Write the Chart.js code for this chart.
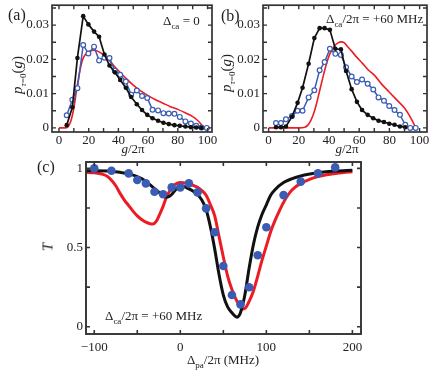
<!DOCTYPE html>
<html>
<head>
<meta charset="utf-8">
<script src="https://cdn.jsdelivr.net/npm/chart.js@4"></script>
<style>
  body { margin: 0; background: #fff; }
  #wrap { position: relative; width: 436px; height: 375px; font-family: 'Liberation Serif', 'Times New Roman', serif; color: #222; }
  canvas { position: absolute; left: 0; top: 0; }
  .t { position: absolute; white-space: nowrap; font-size: 13px; line-height: 13px; }
  .lab { font-size: 16px; line-height: 16px; }
  .rot { transform: translate(-50%, -50%) rotate(-90deg); }
  .s { font-size: 9px; position: relative; top: 4px; }
  i { font-style: italic; }
</style>
</head>
<body>
<div id="wrap">
  <canvas id="panelA" width="436" height="375"></canvas>
  <canvas id="panelB" width="436" height="375"></canvas>
  <canvas id="panelC" width="436" height="375"></canvas>

  <div class="t lab" style="left:8px;top:7px">(a)</div>
  <div class="t lab" style="left:221px;top:8px">(b)</div>
  <div class="t lab" style="left:37px;top:159px">(c)</div>

  <div class="t" style="left:163px;top:14px">&Delta;<span class="s">ca</span> = 0</div>
  <div class="t" style="left:326px;top:12px">&Delta;<span class="s">ca</span>/2&pi; = +60 MHz</div>
  <div class="t" style="left:105px;top:309px">&Delta;<span class="s">ca</span>/2&pi; = +60 MHz</div>

  <div class="t" style="left:133px;top:142px;transform:translateX(-50%)"><i>g</i>/2&pi;</div>
  <div class="t" style="left:347px;top:142px;transform:translateX(-50%)"><i>g</i>/2&pi;</div>
  <div class="t" style="left:223px;top:353px;transform:translateX(-50%)">&Delta;<span class="s">pa</span>/2&pi; (MHz)</div>

  <div class="t rot" style="left:18px;top:75px;font-size:15px"><i>p</i><span class="s"><i>&tau;</i>=0</span>(<i>g</i>)</div>
  <div class="t rot" style="left:227px;top:73px;font-size:15px"><i>p</i><span class="s"><i>&tau;</i>=0</span>(<i>g</i>)</div>
  <div class="t rot" style="left:48px;top:247px;font-size:15px"><i>T</i></div>
</div>
<script>
// panel (a): Delta_ca = 0
var gA = [5.2, 9, 12.4, 16.3, 19.8, 23.6, 27, 30.6, 34, 37.6, 41.2, 45, 48.6, 52.4, 55.9, 59.4, 63, 66.7, 70.3, 73.9, 77.7, 81.3, 85.1, 88.8, 92.4, 95.9, 99.5];
var pA_black = [0.0008, 0.006, 0.0204, 0.0326, 0.0302, 0.0281, 0.0266, 0.0214, 0.0182, 0.0162, 0.0140, 0.0117, 0.0090, 0.0069, 0.0052, 0.0038, 0.0028, 0.0021, 0.0015, 0.0011, 0.0008, 0.0006, 0.0004, 0.0002, 0.0001, 0.0];
var pA_blue = [0.0037, 0.0082, 0.0116, 0.0242, 0.0217, 0.0237, 0.0197, 0.0205, 0.0204, 0.0167, 0.0155, 0.0135, 0.0097, 0.0109, 0.0093, 0.0087, 0.0053, 0.0051, 0.0043, 0.0042, 0.0041, 0.0032, 0.0019, 0.0013, 0.0006, 0.0001, 0.0];
var gA_red = [0, 4, 6, 8, 10, 12, 14, 16, 18, 20, 23, 26, 30, 34, 38, 42, 46, 50, 55, 60, 65, 70, 75, 80, 85, 90, 93, 95, 97, 98];
var pA_red = [0, 0, 0.0003, 0.002, 0.0058, 0.0115, 0.0165, 0.0200, 0.0215, 0.0222, 0.0227, 0.0224, 0.0213, 0.0196, 0.0176, 0.0158, 0.0141, 0.0125, 0.0108, 0.0094, 0.0082, 0.0072, 0.0062, 0.0054, 0.0044, 0.0033, 0.0023, 0.0014, 0.0003, 0];

// panel (b): Delta_ca/2pi = +60 MHz
var gB = [4.9, 8.2, 11.5, 15.5, 19.2, 22.5, 26.5, 30.3, 33.8, 37.1, 40.6, 44.2, 47.9, 51.3, 55.0, 58.5, 61.9, 65.6, 69.3, 72.8, 76.4, 79.9, 83.4, 87, 90.5, 93.8, 97.4];
var pB_black = [0.0002, 0.0002, 0.0004, 0.0033, 0.0073, 0.0117, 0.0187, 0.0262, 0.0291, 0.0291, 0.0286, 0.0231, 0.0229, 0.0166, 0.0113, 0.0076, 0.0052, 0.0038, 0.0028, 0.0021, 0.0017, 0.0012, 0.0009, 0.0004, 0.0002];
var pB_blue = [0.0014, 0.0014, 0.0025, 0.0035, 0.005, 0.005, 0.0089, 0.011, 0.0168, 0.0192, 0.0231, 0.0216, 0.0213, 0.0177, 0.015, 0.0134, 0.0141, 0.0129, 0.0112, 0.0089, 0.0079, 0.0064, 0.0052, 0.0038, 0.0009, 0.0, 0.0];
var gB_red = [0, 10, 20, 24, 26, 28, 30, 32, 34, 36, 38, 40, 42, 44, 46, 48, 50, 52, 55, 58, 62, 66, 70, 75, 80, 85, 90, 93, 95, 96.5, 97.5];
var pB_red = [0, 0, 0, 0.0002, 0.0008, 0.0022, 0.0044, 0.0075, 0.0112, 0.0148, 0.0182, 0.021, 0.0228, 0.0241, 0.0248, 0.0251, 0.0249, 0.0239, 0.0224, 0.0208, 0.0189, 0.0169, 0.0154, 0.0127, 0.0104, 0.0081, 0.0058, 0.0038, 0.0022, 0.0009, 0];

// panel (c): transmission vs probe detuning
var dC_dots = [-100, -80, -60, -50, -40, -30, -20, -10, 0, 10, 20, 30, 40, 50, 60, 70, 80, 90, 100, 120, 140, 160, 180];
var tC_dots = [1.0, 0.985, 0.968, 0.926, 0.905, 0.852, 0.836, 0.88, 0.88, 0.905, 0.848, 0.747, 0.596, 0.383, 0.2, 0.141, 0.249, 0.451, 0.628, 0.831, 0.916, 0.968, 1.006];
var dC_black = [-110, -100, -80, -70, -60, -50, -45, -40, -35, -30, -25, -20, -17, -14, -10, -6, -3, 0, 3, 8, 15, 20, 25, 30, 35, 40, 45, 50, 55, 60, 63, 66, 68, 70, 75, 80, 85, 90, 95, 100, 105, 110, 120, 130, 140, 160, 180, 200];
var tC_black = [0.985, 0.985, 0.982, 0.975, 0.965, 0.948, 0.935, 0.918, 0.895, 0.872, 0.85, 0.828, 0.818, 0.82, 0.835, 0.862, 0.88, 0.888, 0.887, 0.875, 0.855, 0.835, 0.8, 0.74, 0.63, 0.49, 0.33, 0.2, 0.125, 0.088, 0.07, 0.06, 0.068, 0.09, 0.2, 0.37, 0.52, 0.63, 0.71, 0.77, 0.83, 0.865, 0.91, 0.935, 0.952, 0.972, 0.983, 0.988];
var dC_red = [-110, -100, -90, -85, -80, -75, -70, -65, -60, -55, -50, -45, -40, -35, -32, -28, -24, -20, -16, -12, -8, -4, 0, 8, 15, 20, 25, 30, 35, 40, 45, 50, 55, 60, 65, 70, 72, 75, 80, 85, 90, 95, 100, 105, 110, 115, 120, 125, 130, 140, 150, 160, 170, 180, 190, 200];
var tC_red = [0.975, 0.972, 0.962, 0.95, 0.925, 0.89, 0.842, 0.8, 0.765, 0.73, 0.7, 0.677, 0.66, 0.65, 0.648, 0.665, 0.71, 0.76, 0.82, 0.86, 0.89, 0.905, 0.91, 0.905, 0.893, 0.88, 0.86, 0.83, 0.77, 0.7, 0.57, 0.44, 0.32, 0.235, 0.17, 0.125, 0.112, 0.115, 0.16, 0.225, 0.32, 0.42, 0.51, 0.6, 0.67, 0.73, 0.785, 0.83, 0.865, 0.905, 0.93, 0.948, 0.96, 0.968, 0.974, 0.978];

// tick labels and tick marks
var gLabels = [0, 20, 40, 60, 80, 100];
var gMarks = [0, 10, 20, 30, 40, 50, 60, 70, 80, 90, 100];
var pLabels = [0, 0.01, 0.02, 0.03];
var pMarks = [0, 0.005, 0.01, 0.015, 0.02, 0.025, 0.03, 0.035];
var dLabels = [-100, 0, 100, 200];
var dMarks = [-100, -50, 0, 50, 100, 150, 200];
var tLabels = [0, 0.5, 1];
var tMarks = [0, 0.25, 0.5, 0.75, 1];

var RED = '#ec1c24', BLUE = '#3a5cb4', BLACK = '#111';
var FONT = { family: "'Liberation Serif', 'Times New Roman', serif", size: 13 };

function pts(xs, ys) {
    return ys.map(function(v, i) { return { x: xs[i], y: v }; });
}

// frame with inward ticks on all four sides
var frameTicks = {
    id: 'frameTicks',
    afterDatasetsDraw: function(chart, args, o) {
        var ctx = chart.ctx, a = chart.chartArea;
        var xs = chart.scales.x, ys = chart.scales.y;
        ctx.save();
        ctx.strokeStyle = '#333';
        ctx.lineWidth = o.lw;
        ctx.beginPath();
        o.xm.forEach(function(v) {
            var p = xs.getPixelForValue(v);
            ctx.moveTo(p, a.bottom); ctx.lineTo(p, a.bottom - 4);
            ctx.moveTo(p, a.top); ctx.lineTo(p, a.top + 4);
        });
        o.ym.forEach(function(v) {
            var p = ys.getPixelForValue(v);
            ctx.moveTo(a.left, p); ctx.lineTo(a.left + 4, p);
            ctx.moveTo(a.right, p); ctx.lineTo(a.right - 4, p);
        });
        ctx.stroke();
        ctx.lineWidth = o.lw + 0.3;
        ctx.strokeRect(a.left, a.top, a.right - a.left, a.bottom - a.top);
        ctx.restore();
    }
};

function axes(xr, yr, xl, yl, fmt, xpad) {
    return {
        x: {
            type: 'linear', min: xr[0], max: xr[1],
            grid: { display: false, drawTicks: false }, border: { display: false },
            afterBuildTicks: function(s) { s.ticks = xl.map(function(v) { return { value: v }; }); },
            afterFit: function(s) { s.height = 20; s.paddingLeft = 0; s.paddingRight = 0; },
            ticks: { font: FONT, color: '#222', padding: xpad, maxRotation: 0,
                     callback: function(v) { return String(v).replace('-', '\u2212'); } }
        },
        y: {
            type: 'linear', min: yr[0], max: yr[1],
            grid: { display: false, drawTicks: false }, border: { display: false },
            afterBuildTicks: function(s) { s.ticks = yl.map(function(v) { return { value: v }; }); },
            afterFit: function(s) { s.width = 30; s.paddingTop = 0; s.paddingBottom = 0; },
            ticks: { font: FONT, color: '#222', padding: 3, callback: fmt }
        }
    };
}

function distConfig(g, black, blue, gRed, red, xr, pad) {
    return {
        type: 'line',
        data: {
            datasets: [{
                data: pts(g, black), borderColor: BLACK, borderWidth: 1.7,
                pointRadius: 2.3, pointBackgroundColor: BLACK, pointBorderWidth: 0
            }, {
                data: pts(g, blue), borderColor: BLUE, borderWidth: 1.5,
                pointRadius: 2.4, pointBackgroundColor: '#fff', pointBorderColor: BLUE, pointBorderWidth: 1.2
            }, {
                data: pts(gRed, red), borderColor: RED, borderWidth: 1.6,
                pointRadius: 0, cubicInterpolationMode: 'monotone'
            }]
        },
        options: {
            responsive: false, animation: false,
            layout: { padding: pad },
            plugins: { legend: { display: false }, tooltip: { enabled: false },
                       frameTicks: { xm: gMarks, ym: pMarks, lw: 1.4 } },
            scales: axes(xr, [-0.0012, 0.0358], gLabels, pLabels,
                         function(v) { return v === 0 ? '0' : v.toFixed(2); }, 1)
        },
        plugins: [frameTicks]
    };
}

var chartA = new Chart(document.getElementById('panelA'),
    distConfig(gA, pA_black, pA_blue, gA_red, pA_red, [-4.7, 103],
               { left: 22, top: 4, right: 224, bottom: 223 }));
var chartB = new Chart(document.getElementById('panelB'),
    distConfig(gB, pB_black, pB_blue, gB_red, pB_red, [-3.7, 104.9],
               { left: 233, top: 4, right: 9, bottom: 223 }));

var chartC = new Chart(document.getElementById('panelC'), {
    type: 'line',
    data: {
        datasets: [{
            data: pts(dC_dots, tC_dots), showLine: false,
            pointRadius: 4.3, pointBackgroundColor: BLUE, pointBorderWidth: 0
        }, {
            data: pts(dC_black, tC_black), borderColor: BLACK, borderWidth: 3,
            pointRadius: 0, cubicInterpolationMode: 'monotone'
        }, {
            data: pts(dC_red, tC_red), borderColor: RED, borderWidth: 3,
            pointRadius: 0, cubicInterpolationMode: 'monotone'
        }]
    },
    options: {
        responsive: false, animation: false,
        layout: { padding: { left: 56, top: 162, right: 75, bottom: 21 } },
        plugins: { legend: { display: false }, tooltip: { enabled: false },
                   frameTicks: { xm: dMarks, ym: tMarks, lw: 1.6 } },
        scales: axes([-109.6, 210], [-0.046, 1.04], dLabels, tLabels,
                     function(v) { return String(v); }, 6)
    },
    plugins: [frameTicks]
});
</script>
</body>
</html>
